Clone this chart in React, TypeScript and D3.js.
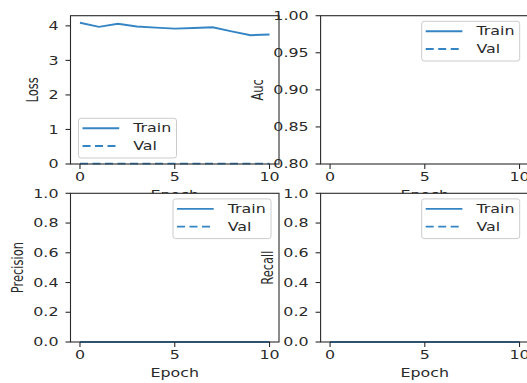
import * as d3 from "d3";

const epochs = [0, 1, 2, 3, 4, 5, 6, 7, 8, 9, 10];
const lossTrain = [4.09, 3.97, 4.06, 3.98, 3.95, 3.92, 3.94, 3.96, 3.84, 3.73, 3.75];
const lossVal = [0.01, 0.01, 0.01, 0.01, 0.01, 0.01, 0.01, 0.01, 0.01, 0.01, 0.01];
const aucTrain = [0.5, 0.5, 0.5, 0.5, 0.5, 0.5, 0.5, 0.5, 0.5, 0.5, 0.5];
const aucVal = [0.5, 0.5, 0.5, 0.5, 0.5, 0.5, 0.5, 0.5, 0.5, 0.5, 0.5];
const precisionTrain = [0, 0, 0, 0, 0, 0, 0, 0, 0, 0, 0];
const precisionVal = [0, 0, 0, 0, 0, 0, 0, 0, 0, 0, 0];
const recallTrain = [0, 0, 0, 0, 0, 0, 0, 0, 0, 0, 0];
const recallVal = [0, 0, 0, 0, 0, 0, 0, 0, 0, 0, 0];
const xTicks = [0, 5, 10];
const lossTicks = [0, 1, 2, 3, 4];
const aucTicks = [0.8, 0.85, 0.9, 0.95, 1.0];
const unitTicks = [0, 0.2, 0.4, 0.6, 0.8, 1.0];
const legendLabels = ["Train", "Val"];

const width = 527;
const height = 383;
const FS = 11.5;
const SX = 1.38;
const color = "#3585c4";
const ink = "#2a2a2a";
const cols = [[70.5, 279], [320.6, 529]];
const rows = [[15.7, 164], [193.3, 342]];

// rough DejaVu Sans advance widths
function textW(s: string) {
  let w = 0;
  for (const c of s) w += c === "." ? 0.318 : 0.636;
  return w * FS * SX;
}

function T({ x, y, anchor = "start", rotate = 0, children }: any) {
  return (
    <text
      transform={`translate(${x},${y}) scale(${SX},1)${rotate ? ` rotate(${rotate})` : ""}`}
      textAnchor={anchor}
      fontFamily="DejaVu Sans"
      fontSize={FS}
      fill={ink}
    >
      {children}
    </text>
  );
}

function Panel({ id, col, row, label, train, val, yDomain, yTicks, fmt, legendLoc }: any) {
  const [x0, x1] = cols[col];
  const [y0, y1] = rows[row];
  const x = d3.scaleLinear().domain([-0.5, 10.5]).range([x0, x1]);
  const y = d3.scaleLinear().domain(yDomain).range([y1, y0]);
  const line = d3
    .line<number>()
    .x((_, i) => x(epochs[i]))
    .y((d) => y(d));
  const tickLabels = yTicks.map((t: number) => d3.format(fmt)(t));
  const maxW = d3.max(tickLabels, (s: string) => textW(s)) as number;

  const lw = 98;
  const lh = 39.7;
  const lx = legendLoc === "lower left" ? x0 + 8 : Math.min(x1, width + 0.7) - 8 - lw;
  const ly = legendLoc === "lower left" ? y1 - 6 - lh : y0 + 5.6;

  return (
    <g>
      <defs>
        <clipPath id={id}>
          <rect x={x0} y={y0} width={x1 - x0} height={y1 - y0 + 1} />
        </clipPath>
      </defs>
      <rect x={x0} y={y0} width={x1 - x0} height={y1 - y0} fill="#fff" />
      <g clipPath={`url(#${id})`}>
        <path d={line(train) as string} fill="none" stroke={color} strokeWidth={1.9} />
        <path d={line(val) as string} fill="none" stroke={color} strokeWidth={1.9} strokeDasharray="8,4.5" />
      </g>
      <rect x={x0} y={y0} width={x1 - x0} height={y1 - y0} fill="none" stroke={ink} strokeWidth={1.1} />
      {xTicks.map((t) => (
        <g key={"x" + t}>
          <line x1={x(t)} x2={x(t)} y1={y1} y2={y1 + 5} stroke={ink} strokeWidth={1.1} />
          <T x={x(t)} y={y1 + 16.5} anchor="middle">{t}</T>
        </g>
      ))}
      {yTicks.map((t: number, i: number) => (
        <g key={"y" + t}>
          <line x1={x0 - 5} x2={x0} y1={y(t)} y2={y(t)} stroke={ink} strokeWidth={1.1} />
          <T x={x0 - 12} y={y(t) + 4.2} anchor="end">{tickLabels[i]}</T>
        </g>
      ))}
      <T x={(x0 + x1) / 2} y={y1 + 34.5} anchor="middle">Epoch</T>
      <T x={x0 - 22 - maxW} y={(y0 + y1) / 2} anchor="middle" rotate={-90}>{label}</T>
      <g>
        <rect x={lx} y={ly} width={lw} height={lh} rx={2.5} fill="#fff" fillOpacity={0.8} stroke="#cccccc" strokeWidth={1} />
        {legendLabels.map((name, i) => {
          const by = ly + 14 + i * 17.7;
          return (
            <g key={name}>
              <line
                x1={lx + 4}
                x2={lx + 40.7}
                y1={by - 4}
                y2={by - 4}
                stroke={color}
                strokeWidth={1.9}
                strokeDasharray={i === 1 ? "8,4.5" : undefined}
              />
              <T x={lx + 54.7} y={by}>{name}</T>
            </g>
          );
        })}
      </g>
    </g>
  );
}

function lossDomain() {
  const all = lossTrain.concat(lossVal);
  const [lo, hi] = d3.extent(all) as [number, number];
  return [0, hi + 0.05 * (hi - lo)];
}

export default function App() {
  return (
    <svg width={width} height={height} style={{ position: "absolute", left: 0, top: 0, background: "#fff" }}>
      <Panel id="c1" col={0} row={0} label="Loss" train={lossTrain} val={lossVal} yDomain={lossDomain()} yTicks={lossTicks} fmt="d" legendLoc="lower left" />
      <Panel id="c2" col={1} row={0} label="Auc" train={aucTrain} val={aucVal} yDomain={[0.8, 1]} yTicks={aucTicks} fmt=".2f" legendLoc="upper right" />
      <Panel id="c3" col={0} row={1} label="Precision" train={precisionTrain} val={precisionVal} yDomain={[0, 1]} yTicks={unitTicks} fmt=".1f" legendLoc="upper right" />
      <Panel id="c4" col={1} row={1} label="Recall" train={recallTrain} val={recallVal} yDomain={[0, 1]} yTicks={unitTicks} fmt=".1f" legendLoc="upper right" />
    </svg>
  );
}
